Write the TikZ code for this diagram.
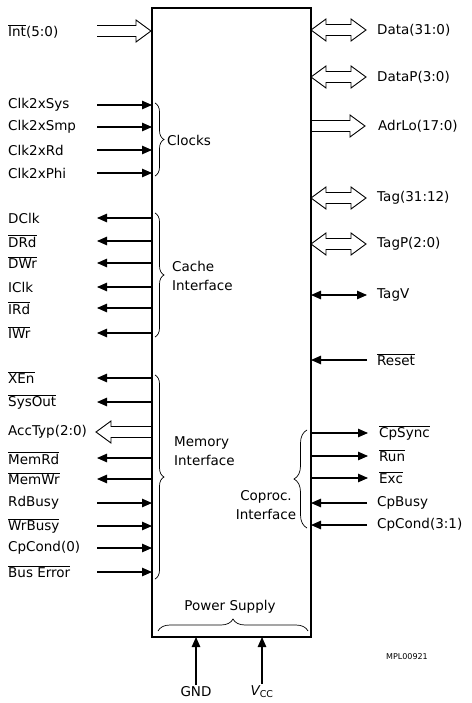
\documentclass[tikz,border=0pt]{standalone}
\usepackage{fontspec}
\setmainfont{DejaVu Sans}
\usetikzlibrary{calc,arrows.meta,decorations.pathreplacing}

\newcommand{\ovl}[1]{$\overline{\hbox{#1}}$}
\newcommand{\sigfont}{\fontsize{13.5}{19}\selectfont}

\tikzset{
	lbl/.style={font=\sigfont, inner sep=0pt, anchor=west},
	wire/.style={line width=1.1pt},
	tipin/.style={wire, -{Triangle[length=10pt,width=8.5pt]}},
	tipboth/.style={wire, {Triangle[length=10pt,width=8.5pt]}-{Triangle[length=10pt,width=8.5pt]}},
	bus/.style={line width=0.9pt, line join=miter},
	grp/.style={line width=0.7pt, decorate, decoration={brace, amplitude=#1}},
}

\begin{document}
\begin{tikzpicture}[x=1pt,y=-1pt]
	\useasboundingbox (0,0) rectangle (471,703);
	\node[draw, line width=2.4pt, minimum width=159pt, minimum height=629pt, anchor=north west, inner sep=0pt, outer sep=0pt] (chip) at (152,8) {};
	
	%interrupt bus
	\node[lbl] (int) at (8,31) {\ovl{Int}(5:0)};
	\coordinate (intt) at (97,31);
	\draw[bus] (intt) ++(0,-5.5) -- ++(39,0) -- ++(0,-5.5) -- ++(15,11) -- ++(-15,11) -- ++(0,-5.5) -- ++(-39,0);
	
	%left inputs
	\foreach \y/\txt [count=\i] in {105/Clk2xSys, 127/Clk2xSmp, 150/Clk2xRd, 173/Clk2xPhi, 503/RdBusy, 526/\ovl{WrBusy}, 548/CpCond(0), 572/\ovl{Bus Error}}{
		\node[lbl] (li\i) at (8,\y) {\txt};
		\coordinate (lit\i) at (97,\y);
		\draw[tipin] (lit\i) -- (lit\i -| chip.west);
	}
	
	%left outputs
	\foreach \y/\txt [count=\i] in {218/DClk, 241/\ovl{DRd}, 263/\ovl{DWr}, 287/IClk, 308/\ovl{IRd}, 333/\ovl{IWr}, 378/\ovl{XEn}, 402/\ovl{SysOut}, 458/\ovl{MemRd}, 479/\ovl{MemWr}}{
		\node[lbl] (lo\i) at (8,\y) {\txt};
		\coordinate (lot\i) at (97,\y);
		\draw[tipin] (lot\i -| chip.west) -- (lot\i);
	}
	
	%access type bus
	\node[lbl] (acc) at (8,432) {AccTyp(2:0)};
	\coordinate (acct) at (96,432);
	\draw[bus] (acct -| chip.west) ++(0,-5.5) -- ++(-41,0) -- ++(0,-5.5) -- ++(-15,11) -- ++(15,11) -- ++(0,-5.5) -- ++(41,0);
	
	%groups left
	\draw[grp=9pt] (155,103) -- (155,176);
	\node[lbl] (clocks) at (167,140) {Clocks};
	\draw[grp=9pt] (155,213) -- (155,337);
	\node[lbl, align=left] (cache) at (172,276) {Cache\\Interface};
	\draw[grp=9pt] (155,375) -- (155,579);
	\node[lbl, align=left] (mem) at (174,451) {Memory\\Interface};
	
	%right buses
	\foreach \y/\txt [count=\i] in {30/Data(31:0), 77/DataP(3:0), 198/Tag(31:12), 244/TagP(2:0)}{
		\node[lbl] (rb\i) at (377,\y) {\txt};
		\coordinate (rbt\i) at (366,\y);
		\draw[bus] (rbt\i -| chip.east) -- ++(15,-11) -- ++(0,5.5) -- ++(25,0) -- ++(0,-5.5) -- ++(15,11) -- ++(-15,11) -- ++(0,-5.5) -- ++(-25,0) -- ++(0,5.5) -- cycle;
	}
	\node[lbl] (adr) at (378,126) {AdrLo(17:0)};
	\coordinate (adrt) at (366,126);
	\draw[bus] (adrt -| chip.east) ++(0,-5.5) -- ++(39,0) -- ++(0,-5.5) -- ++(15,11) -- ++(-15,11) -- ++(0,-5.5) -- ++(-39,0);
	
	%right wires
	\node[lbl] (tagv) at (377,295) {TagV};
	\coordinate (tagvt) at (367,295);
	\draw[tipboth] (tagvt -| chip.east) -- (tagvt);
	\foreach \y/\txt [count=\i] in {360/\ovl{Reset}, 503/CpBusy, 525/CpCond(3:1)}{
		\node[lbl] (ri\i) at (377,\y) {\txt};
		\coordinate (rit\i) at (367,\y);
		\draw[tipin] (rit\i) -- (rit\i -| chip.east);
	}
	\foreach \y/\txt [count=\i] in {433/\ovl{CpSync}, 456/\ovl{Run}, 478/\ovl{Exc}}{
		\node[lbl] (ro\i) at (379,\y) {\txt};
		\coordinate (rot\i) at (368,\y);
		\draw[tipin] (rot\i -| chip.east) -- (rot\i);
	}
	
	%coprocessor group
	\draw[grp=13pt] (307,528) -- (307,430);
	\node[font=\sigfont, inner sep=0pt, align=center] (copr) at (266,505) {Coproc.\\Interface};
	
	%power supply
	\node[font=\sigfont, inner sep=0pt] (pwr) at (230,607) {Power Supply};
	\draw[grp=12pt] (158,631) -- (308,631);
	\node[font=\sigfont, inner sep=2pt] (gnd) at (196,692) {GND};
	\node[font=\sigfont, inner sep=2pt] (vcc) at (262,692) {{\itshape V}\textsubscript{CC}};
	\draw[tipin] (gnd.north) -- (gnd.north |- chip.south);
	\draw[tipin] (vcc.north) -- (vcc.north |- chip.south);
	
	\node[font=\fontsize{8}{9}\selectfont, inner sep=0pt] (fig) at (407,657) {MPL00921};
\end{tikzpicture}
\end{document}
